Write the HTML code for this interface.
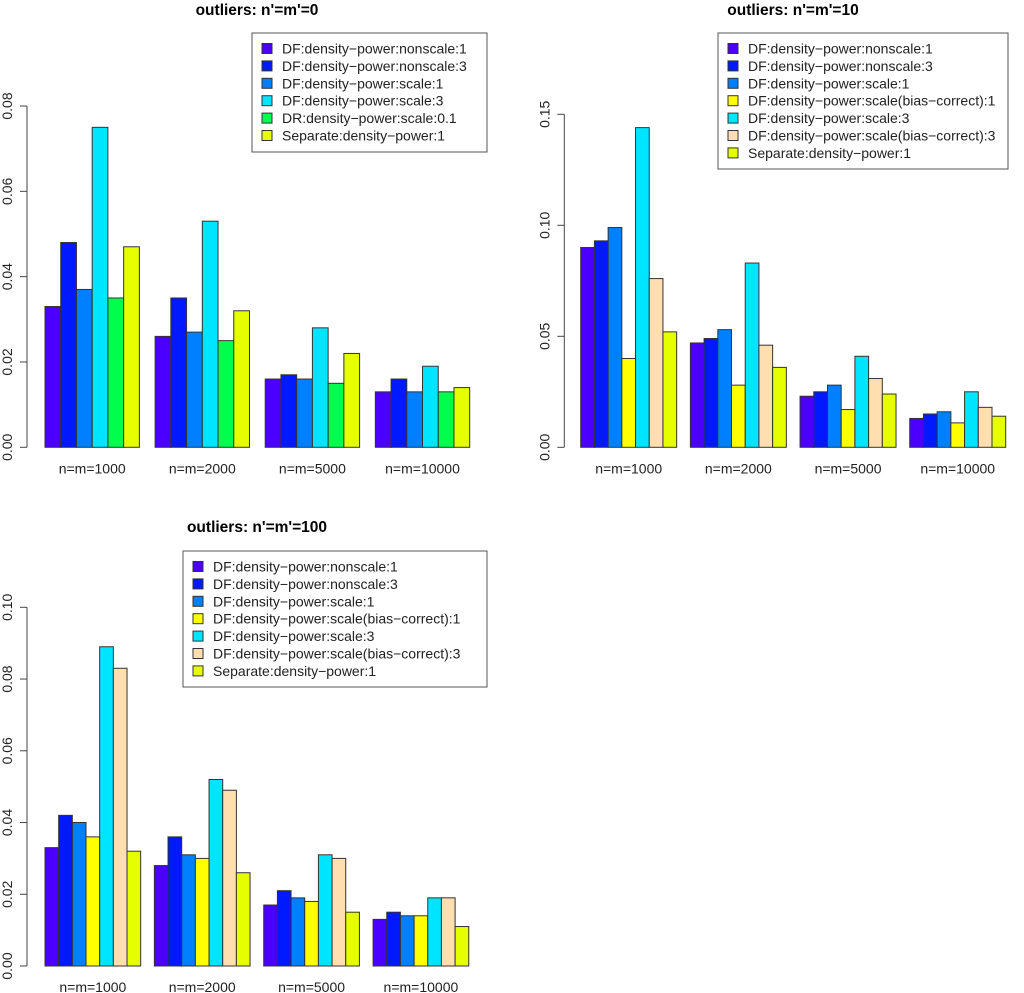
<!DOCTYPE html>
<html><head><meta charset="utf-8"><style>
body{margin:0;background:#fff}
svg{display:block;font-family:"Liberation Sans",Arial,sans-serif}
</style></head><body>
<svg id="s" width="1024" height="993"></svg>
<script>
const categories=["n=m=1000","n=m=2000","n=m=5000","n=m=10000"];
const names1=["DF:density\u2212power:nonscale:1","DF:density\u2212power:nonscale:3","DF:density\u2212power:scale:1","DF:density\u2212power:scale:3","DR:density\u2212power:scale:0.1","Separate:density\u2212power:1"];
const colors1=["#4b00ff","#0019ff","#0080ff","#00e5ff","#00ff4d","#e5ff00"];
const values1=[[0.033,0.026,0.016,0.013],[0.048,0.035,0.017,0.016],[0.037,0.027,0.016,0.013],[0.075,0.053,0.028,0.019],[0.035,0.025,0.015,0.013],[0.047,0.032,0.022,0.014]];
const ticks1=[0,0.02,0.04,0.06,0.08];
const names2=["DF:density\u2212power:nonscale:1","DF:density\u2212power:nonscale:3","DF:density\u2212power:scale:1","DF:density\u2212power:scale(bias\u2212correct):1","DF:density\u2212power:scale:3","DF:density\u2212power:scale(bias\u2212correct):3","Separate:density\u2212power:1"];
const colors2=["#4b00ff","#0019ff","#0080ff","#ffff00","#00e5ff","#ffdeb0","#e5ff00"];
const values2=[[0.090,0.047,0.023,0.013],[0.093,0.049,0.025,0.015],[0.099,0.053,0.028,0.016],[0.040,0.028,0.017,0.011],[0.144,0.083,0.041,0.025],[0.076,0.046,0.031,0.018],[0.052,0.036,0.024,0.014]];
const ticks2=[0,0.05,0.10,0.15];
const values3=[[0.033,0.028,0.017,0.013],[0.042,0.036,0.021,0.015],[0.040,0.031,0.019,0.014],[0.036,0.030,0.018,0.014],[0.089,0.052,0.031,0.019],[0.083,0.049,0.030,0.019],[0.032,0.026,0.015,0.011]];
const ticks3=[0,0.02,0.04,0.06,0.08,0.10];

const svg=document.getElementById('s');
const NS='http://www.w3.org/2000/svg';
function mk(t,a,p){const e=document.createElementNS(NS,t);for(const k in a)e.setAttribute(k,a[k]);(p||svg).appendChild(e);return e;}

function panel(o){
  const g=mk('g',{});
  
  
  const y=v=>o.y0-(v-0)/(o.ymax)*(o.y0-o.ytop);
  const t=mk('text',{x:o.tx,y:o.ty,'text-anchor':'middle','font-size':15.5,'font-weight':'bold'},g);
  t.textContent=o.title;
  
  
  const ax=mk('line',{x1:o.ax,x2:o.ax,y1:y(0),y2:y(o.ticks[o.ticks.length-1]),stroke:'#444'},g);
  
  
  o.ticks.forEach(v=>{
    mk('line',{x1:o.ax-7,x2:o.ax,y1:y(v),y2:y(v),stroke:'#444'},g);
    const l=mk('text',{x:0,y:0,transform:`translate(${o.ax-15},${y(v)}) rotate(-90)`,'text-anchor':'middle','font-size':14,fill:'#222'},g);
    l.textContent=v.toFixed(2);
    
    
  });
  const ns=o.vals.length;
  categories.forEach((c,ci)=>{
    const gx=o.bx+ci*(ns+1)*o.w;
    o.vals.forEach((ser,si)=>{
      const v=ser[ci];
      const r=mk('rect',{x:gx+si*o.w,y:y(v),width:o.w,height:y(0)-y(v),fill:o.colors[si],stroke:'#333','stroke-width':1},g);
      
      
    });
    const l=mk('text',{x:gx+ns*o.w/2,y:o.y0+26,'text-anchor':'middle','font-size':14,fill:'#222'},g);
    l.textContent=c;
    
    
  });
  const lg=mk('g',{},g);
  
  
  mk('rect',{x:o.lx,y:o.ly,width:o.lw,height:o.lh,fill:'#fff',stroke:'#555'},lg);
  o.names.forEach((n,i)=>{
    const yy=o.ly+15.5+i*17.4;
    mk('rect',{x:o.lx+10,y:yy-5,width:10,height:10,fill:o.colors[i],stroke:'#333'},lg);
    const tx=mk('text',{x:o.lx+30,y:yy+5,'font-size':14,fill:'#222'},lg);
    tx.textContent=n;
    
    
  });
}
panel({id:'panel-n0',title:"outliers: n'=m'=0",tx:257,ty:15,ax:27,y0:447.3,ytop:106,ymax:0.08,ticks:ticks1,bx:45,w:15.73,vals:values1,colors:colors1,names:names1,lx:252,ly:33,lw:235,lh:119});
panel({id:'panel-n10',title:"outliers: n'=m'=10",tx:793,ty:15,ax:564.3,y0:447.3,ytop:114.3,ymax:0.15,ticks:ticks2,bx:580.7,w:13.71,vals:values2,colors:colors2,names:names2,lx:718,ly:33,lw:290,lh:136});
panel({id:'panel-n100',title:"outliers: n'=m'=100",tx:257,ty:532,ax:27,y0:966,ytop:607.3,ymax:0.10,ticks:ticks3,bx:45,w:13.67,vals:values3,colors:colors2,names:names2,lx:183,ly:551,lw:304,lh:136});
</script>
</body></html>
